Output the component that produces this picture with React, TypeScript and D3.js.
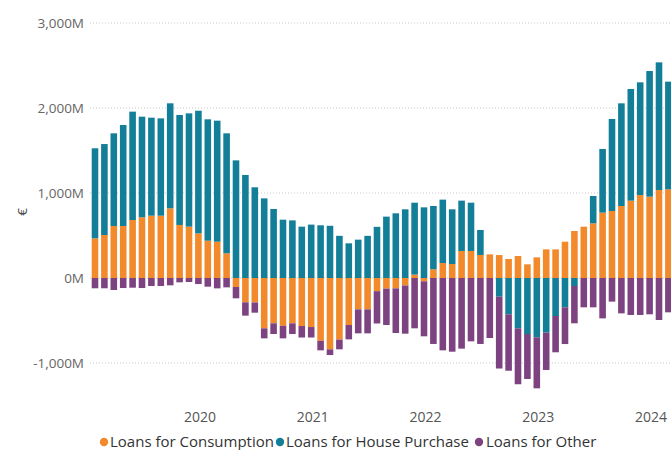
import React from "react";
import * as d3 from "d3";

// Monthly values in € millions (Feb 2019 – Mar 2024)
const consumption = [467,506,612,612,682,714,733,733,820,624,604,525,439,427,290,-106,-286,-288,-592,-533,-563,-533,-565,-577,-739,-839,-725,-553,-369,-369,-155,-125,-122,-88,40,-39,102,176,165,318,318,271,278,270,224,259,161,243,337,337,427,553,604,643,769,788,847,910,976,957,1035,1043];
const housePurchase = [1059,1070,1090,1188,1275,1184,1153,1145,1235,1294,1333,1443,1428,1424,1412,1384,1212,1067,937,812,686,678,604,628,620,614,496,408,451,496,602,722,761,808,846,831,745,746,643,592,568,294,0,-220,-427,-592,-659,-698,-643,-447,-345,-94,0,322,749,1083,1208,1314,1326,1478,1502,1267];
const other = [-121,-121,-141,-118,-114,-118,-94,-94,-86,-51,-47,-71,-102,-122,-110,-133,-157,-120,-118,-126,-147,-126,-135,-123,-112,-67,-114,-169,-282,-282,-380,-428,-525,-567,-592,-647,-776,-851,-867,-831,-745,-776,-706,-845,-664,-658,-529,-600,-439,-427,-432,-439,-345,-345,-475,-278,-416,-435,-435,-427,-494,-404];

const months = d3.timeMonths(new Date(2019, 1, 1), new Date(2024, 3, 1));
const yearLabels = ["2020", "2021", "2022", "2023", "2024"];
const yTicks = [3000, 2000, 1000, 0, -1000];
const seriesNames = ["Loans for Consumption", "Loans for House Purchase", "Loans for Other"];
const seriesKeys = ["consumption", "house", "other"];
const colors = ["#F28A2C", "#127E98", "#7C4380"];

const W = 671, H = 450;
const font = "'Open Sans', 'Segoe UI', sans-serif";

export default function App() {
  const rows = months.map((m, i) => ({
    month: m,
    consumption: consumption[i],
    house: housePurchase[i],
    other: other[i],
  }));
  const stacked = d3.stack<any>().keys(seriesKeys).offset(d3.stackOffsetDiverging)(rows);

  const x = d3.scaleBand<Date>()
    .domain(months)
    .range([90.3, 90.3 + months.length * 9.4])
    .paddingInner(0.3)
    .paddingOuter(0.15);
  const y = d3.scaleLinear().domain([-1500, 3000]).range([405.5, 23]);
  const fmt = (v: number) => (v < 0 ? "-" : "") + d3.format(",")(Math.abs(v)) + "M";

  const legendItems = [
    { x: 104, tx: 110 },
    { x: 280, tx: 286 },
    { x: 479, tx: 486 },
  ];

  return (
    <svg width={W} height={H} style={{ position: "absolute", left: 0, top: 0, background: "#fff" }}>
      {/* gridlines */}
      {yTicks.map((t) => (
        <line key={t} x1={90} x2={W} y1={y(t)} y2={y(t)} stroke="#C8C8C8" strokeWidth={1} strokeDasharray="1,2" />
      ))}
      {/* y tick labels */}
      {yTicks.map((t) => (
        <text key={"l" + t} x={84} y={y(t)} dy="0.35em" textAnchor="end" fontFamily={font} fontSize={13.5} fill="#666">
          {fmt(t)}
        </text>
      ))}
      <text transform={`translate(22,212) rotate(-90)`} textAnchor="middle" dy="0.35em" fontFamily={font} fontSize={13.5} fill="#444">
        €
      </text>
      {/* bars */}
      {stacked.map((s, si) => (
        <g key={s.key} fill={colors[si]}>
          {s.map((d: any, i: number) => {
            const y0 = y(d[0]);
            const y1 = y(d[1]);
            const h = Math.abs(y0 - y1);
            if (h < 0.01) return null;
            return (
              <rect key={i} x={x(months[i])} width={x.bandwidth()} y={Math.min(y0, y1)} height={h} />
            );
          })}
        </g>
      ))}
      {/* x year labels */}
      {yearLabels.map((yr) => {
        const m = new Date(+yr, 0, 1);
        const idx = months.findIndex((d) => +d === +m);
        const cx = (x(months[idx]) as number) + x.bandwidth() / 2 + 1.5;
        return (
          <text key={yr} x={cx} y={417} dy="0.35em" textAnchor="middle" fontFamily={font} fontSize={14} fill="#555">
            {yr}
          </text>
        );
      })}
      {/* legend */}
      {seriesNames.map((n, i) => (
        <g key={n}>
          <circle cx={legendItems[i].x} cy={442} r={4.2} fill={colors[i]} />
          <text x={legendItems[i].tx} y={442} dy="0.35em" fontFamily={font} fontSize={15} fill="#333">
            {n}
          </text>
        </g>
      ))}
    </svg>
  );
}
